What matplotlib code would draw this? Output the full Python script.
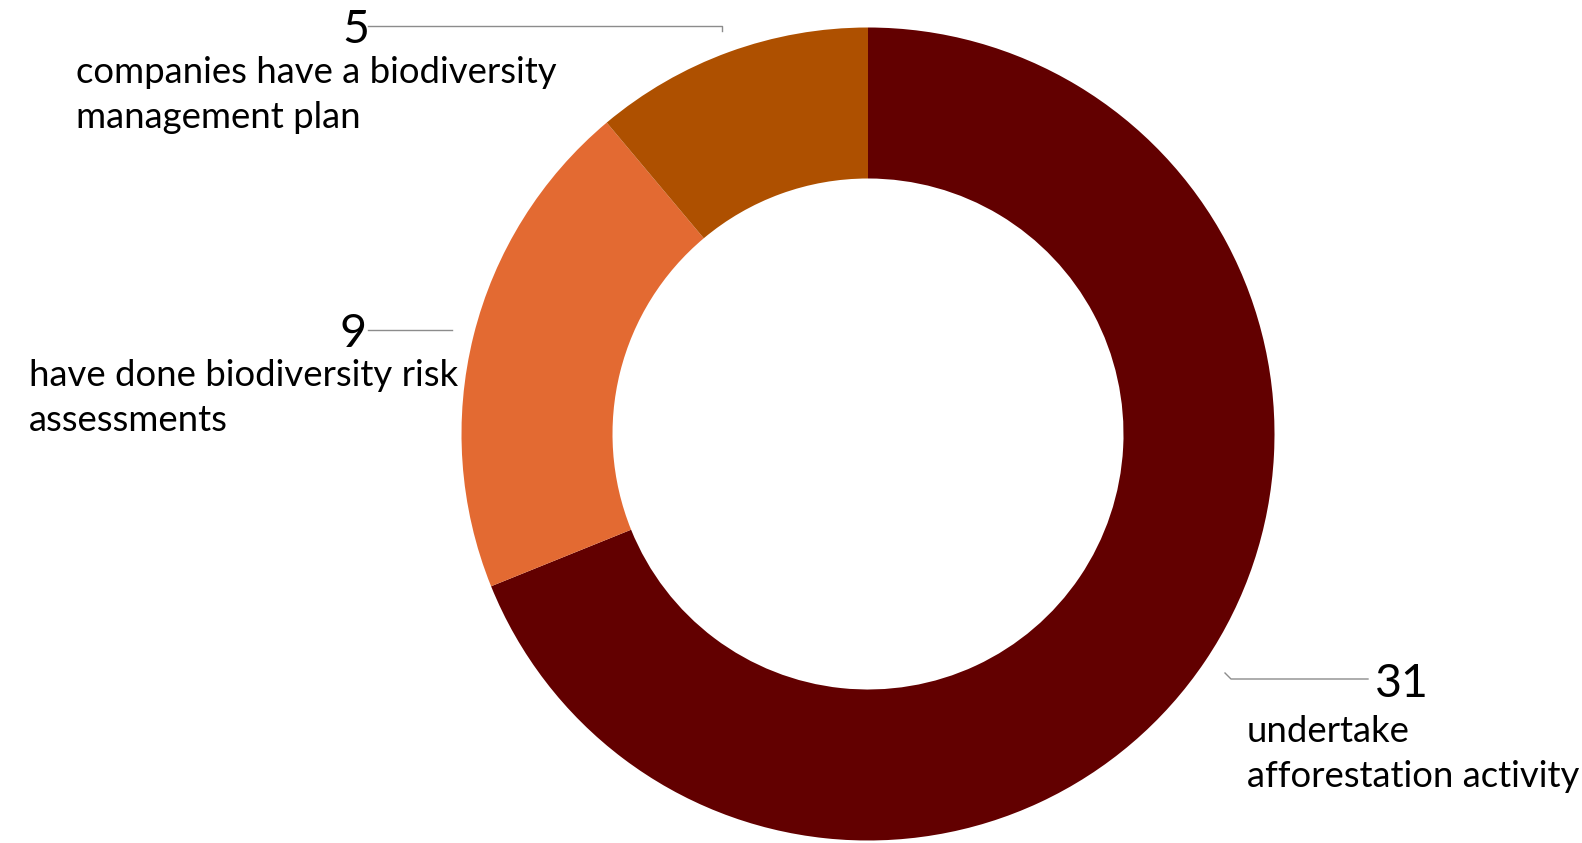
import matplotlib
matplotlib.use("Agg")
import matplotlib.pyplot as plt

# donut chart: companies and biodiversity actions
values = [31, 9, 5]
numbers = ["31", "9", "5"]
labels = [
    ["undertake", "afforestation activity"],
    ["have done biodiversity risk", "assessments"],
    ["companies have a biodiversity", "management plan"],
]
colors = ["#620000", "#E36A32", "#AE5000"]

W, H = 1582, 843
plt.rcParams['font.family'] = ['Lato', 'DejaVu Sans']

fig = plt.figure(figsize=(W / 100, H / 100), dpi=100)
ax = fig.add_axes([0, 0, 1, 1])
ax.set_xlim(0, W)
ax.set_ylim(0, H)
ax.set_aspect('equal')
ax.axis('off')

cx, cy, r = 868, H - 434, 406.5
ax.pie(values, colors=colors, startangle=90, counterclock=False,
       center=(cx, cy), radius=r,
       wedgeprops=dict(width=151, edgecolor='none'))
ax.set_xlim(0, W)
ax.set_ylim(0, H)

# label layout (pixels from top): number pos, text pos, leader line
num_pos = [(1375, 697), (340, 347), (342, 43)]
txt_pos = [(1247, 742), (29, 386), (76, 83)]
leaders = [
    [(1225, 673), (1231, 679), (1368, 679)],
    [(368, 330), (452, 330)],
    [(368, 26), (722, 26), (722, 31)],
]
line_gap = 45

for i in range(len(values)):
    nx, ny = num_pos[i]
    ax.text(nx, H - ny, numbers[i], fontsize=33.5, va='baseline', ha='left', color='black')
    tx, ty = txt_pos[i]
    for j, line in enumerate(labels[i]):
        ax.text(tx, H - ty - j * line_gap, line, fontsize=26.3, va='baseline',
                ha='left', color='black')
    xs = [p[0] for p in leaders[i]]
    ys = [H - p[1] for p in leaders[i]]
    ax.plot(xs, ys, color='#8c8c8c', lw=1.0)

fig.savefig("out.png", dpi=100, facecolor='white')
